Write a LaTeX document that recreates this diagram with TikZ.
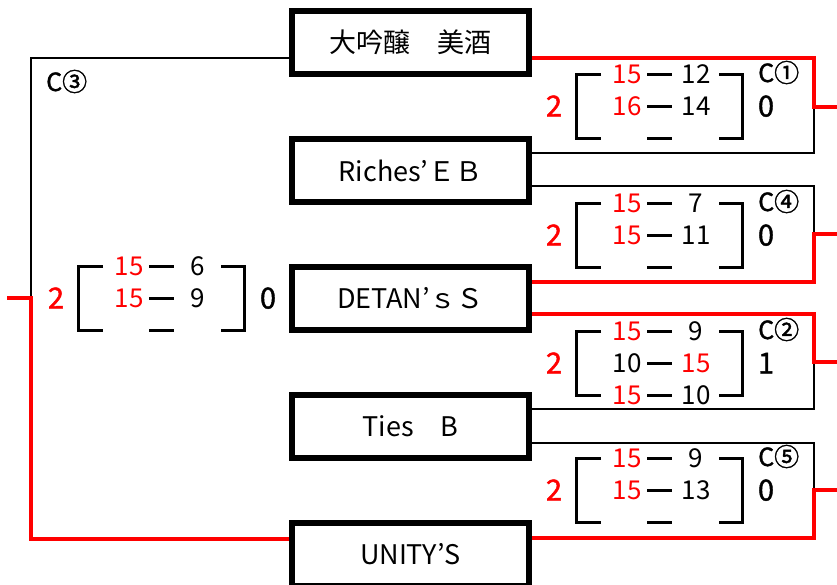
\documentclass[tikz,border=0pt]{standalone}
\usepackage{fontspec}
\setmainfont{Noto Sans CJK JP}
\newfontfamily\bnum[FakeBold=1.5]{Noto Sans CJK JP}
\usetikzlibrary{calc}
\tikzset{
  team/.style={draw, line width=6pt, minimum width=237pt, minimum height=63pt, inner sep=0pt, font=\fontsize{27}{27}\selectfont},
  win/.style={draw=red, line width=4pt},
  lose/.style={draw=black, line width=2.5pt},
  brk/.style={line width=3pt},
  sc/.style={inner sep=0pt, text height=19pt, text depth=0pt, font=\fontsize{26}{26}\selectfont},
  scr/.style={sc, text=red},
  big/.style={inner sep=0pt, text height=21pt, text depth=0pt, font=\bnum\fontsize{29}{29}\selectfont},
  lbl/.style={inner sep=0pt, anchor=west, text height=18pt, text depth=0pt, font=\bnum\fontsize{25}{25}\selectfont},
}
\newcommand\bkt{%
  \draw[brk] (25,0) -- (0,0) -- (0,64) -- (25,64);
  \draw[brk] (143,0) -- (166,0) -- (166,64) -- (143,64);
  \draw[brk] (71,0) -- (96,0);
  \draw[brk] (71,32) -- (96,32);
  \draw[brk] (71,64) -- (96,64);
}
\begin{document}
\begin{tikzpicture}[x=1pt,y=-1pt]
\fill[white] (0,0) rectangle (837,584);
\useasboundingbox (0,0) rectangle (837,584);

% junctions and free ends
\coordinate (j1) at (814,107); \coordinate (o1) at (837,107);
\coordinate (j4) at (814,234); \coordinate (o4) at (837,234);
\coordinate (j2) at (814,362); \coordinate (o2) at (837,362);
\coordinate (j5) at (814,490); \coordinate (o5) at (837,490);
\coordinate (j3) at (31,298);  \coordinate (o3) at (7,298);

% team boxes
\node[team] (b1) at (410.5,42.5)  {大吟醸　美酒};
\node[team] (b2) at (410.5,170.5) {Riches’ＥＢ};
\node[team] (b3) at (410.5,298.5) {DETAN’ｓＳ};
\node[team] (b4) at (410.5,426.5) {Ties　B};
\node[team] (b5) at (410.5,554.5) {UNITY'S};

% connectors
\draw[lose] ($(b2.east)+(0,-17.5)$) -| (j1);
\draw[win]  ($(b1.east)+(0,15.5)$) -| (j1) -- (o1);
\draw[lose] ($(b2.east)+(0,15.5)$) -| (j4);
\draw[win]  ($(b3.east)+(0,-16.5)$) -| (j4) -- (o4);
\draw[lose] ($(b4.east)+(0,-17.5)$) -| (j2);
\draw[win]  ($(b3.east)+(0,15.5)$) -| (j2) -- (o2);
\draw[lose] ($(b4.east)+(0,16.5)$) -| (j5);
\draw[win]  ($(b5.east)+(0,-16.5)$) -| (j5) -- (o5);
\draw[lose] ($(b1.west)+(0,15.5)$) -| (j3);
\draw[win]  ($(b5.west)+(0,-15.5)$) -| (j3) -- (o3);

% C1
\begin{scope}[shift={(576,74)}]
  \bkt
  \node[big,text=red] (m1w) at (-22,32) {2};
  \node[scr] (m1a1) at (51,0) {15};  \node[sc] (m1b1) at (120,0) {12};
  \node[scr] (m1a2) at (51,32) {16}; \node[sc] (m1b2) at (120,32) {14};
  \node[big] (m1l) at (190,32) {0};
  \node[lbl] (m1n) at (182,-1) {C①};
\end{scope}
% C4
\begin{scope}[shift={(576,203)}]
  \bkt
  \node[big,text=red] (m4w) at (-22,32) {2};
  \node[scr] (m4a1) at (51,0) {15};  \node[sc] (m4b1) at (120,0) {7};
  \node[scr] (m4a2) at (51,32) {15}; \node[sc] (m4b2) at (120,32) {11};
  \node[big] (m4l) at (190,32) {0};
  \node[lbl] (m4n) at (182,-1) {C④};
\end{scope}
% C2
\begin{scope}[shift={(576,331)}]
  \bkt
  \node[big,text=red] (m2w) at (-22,32) {2};
  \node[scr] (m2a1) at (51,0) {15};  \node[sc] (m2b1) at (120,0) {9};
  \node[sc] (m2a2) at (51,32) {10};  \node[scr] (m2b2) at (120,32) {15};
  \node[scr] (m2a3) at (51,64) {15}; \node[sc] (m2b3) at (120,64) {10};
  \node[big] (m2l) at (190,32) {1};
  \node[lbl] (m2n) at (182,-1) {C②};
\end{scope}
% C5
\begin{scope}[shift={(576,458)}]
  \bkt
  \node[big,text=red] (m5w) at (-22,32) {2};
  \node[scr] (m5a1) at (51,0) {15};  \node[sc] (m5b1) at (120,0) {9};
  \node[scr] (m5a2) at (51,32) {15}; \node[sc] (m5b2) at (120,32) {13};
  \node[big] (m5l) at (190,32) {0};
  \node[lbl] (m5n) at (182,-1) {C⑤};
\end{scope}
% C3
\begin{scope}[shift={(78,266)}]
  \bkt
  \node[big,text=red] (m3w) at (-22,32) {2};
  \node[scr] (m3a1) at (51,0) {15};  \node[sc] (m3b1) at (120,0) {6};
  \node[scr] (m3a2) at (51,32) {15}; \node[sc] (m3b2) at (120,32) {9};
  \node[big] (m3l) at (190,32) {0};
\end{scope}
\node[lbl] (m3n) at (46,82) {C③};
\end{tikzpicture}
\end{document}
